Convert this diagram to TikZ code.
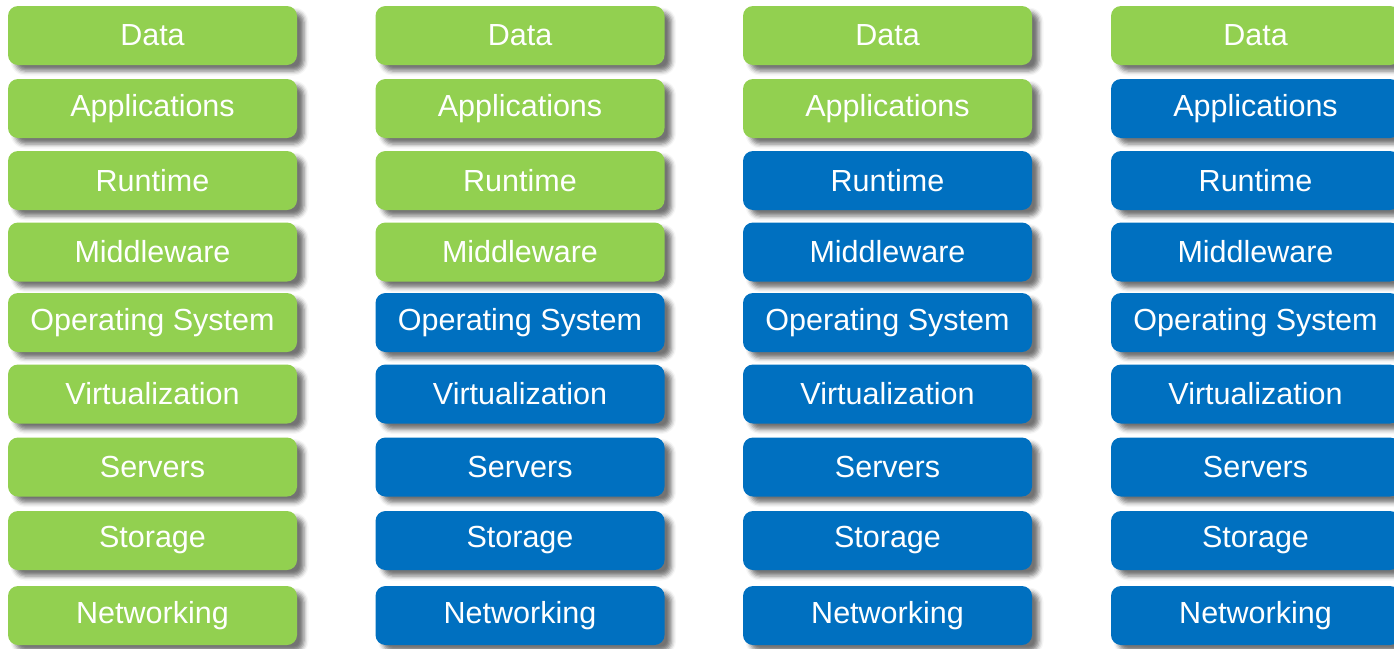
\documentclass[tikz,border=0pt]{standalone}
\usepackage{fontspec}
\setmainfont{Liberation Sans}
\usetikzlibrary{shadows.blur}
\definecolor{lgreen}{HTML}{92D050}
\definecolor{lblue}{HTML}{0070C0}
\tikzset{
  layer/.style={rectangle, rounded corners=10pt, minimum width=289pt, minimum height=59pt,
    text=white, font=\fontsize{30.5}{33}\selectfont, inner sep=0pt,
    blur shadow={shadow xshift=7pt, shadow yshift=-6pt, shadow blur radius=4.5pt, shadow opacity=55}},
  gbox/.style={layer, fill=lgreen},
  bbox/.style={layer, fill=lblue}
}
\begin{document}
\begin{tikzpicture}[x=1pt,y=-1pt]
\useasboundingbox (0,0) rectangle (1394,648);
\clip (0,0) rectangle (1394,648);
\foreach \c/\x/\ng in {1/152.5/9, 2/520/4, 3/887.5/2, 4/1255.5/1}{
  \foreach \r/\y/\t in {1/35.5/Data, 2/108.5/Applications, 3/180.5/Runtime, 4/252/Middleware,
    5/322.5/Operating System, 6/394/Virtualization, 7/467/Servers, 8/540.5/Storage, 9/615.5/Networking}{
    \ifnum\r>\ng
      \node[bbox] (c\c r\r) at (\x,\y) {\t};
    \else
      \node[gbox] (c\c r\r) at (\x,\y) {\t};
    \fi
  }
}
\end{tikzpicture}
\end{document}
